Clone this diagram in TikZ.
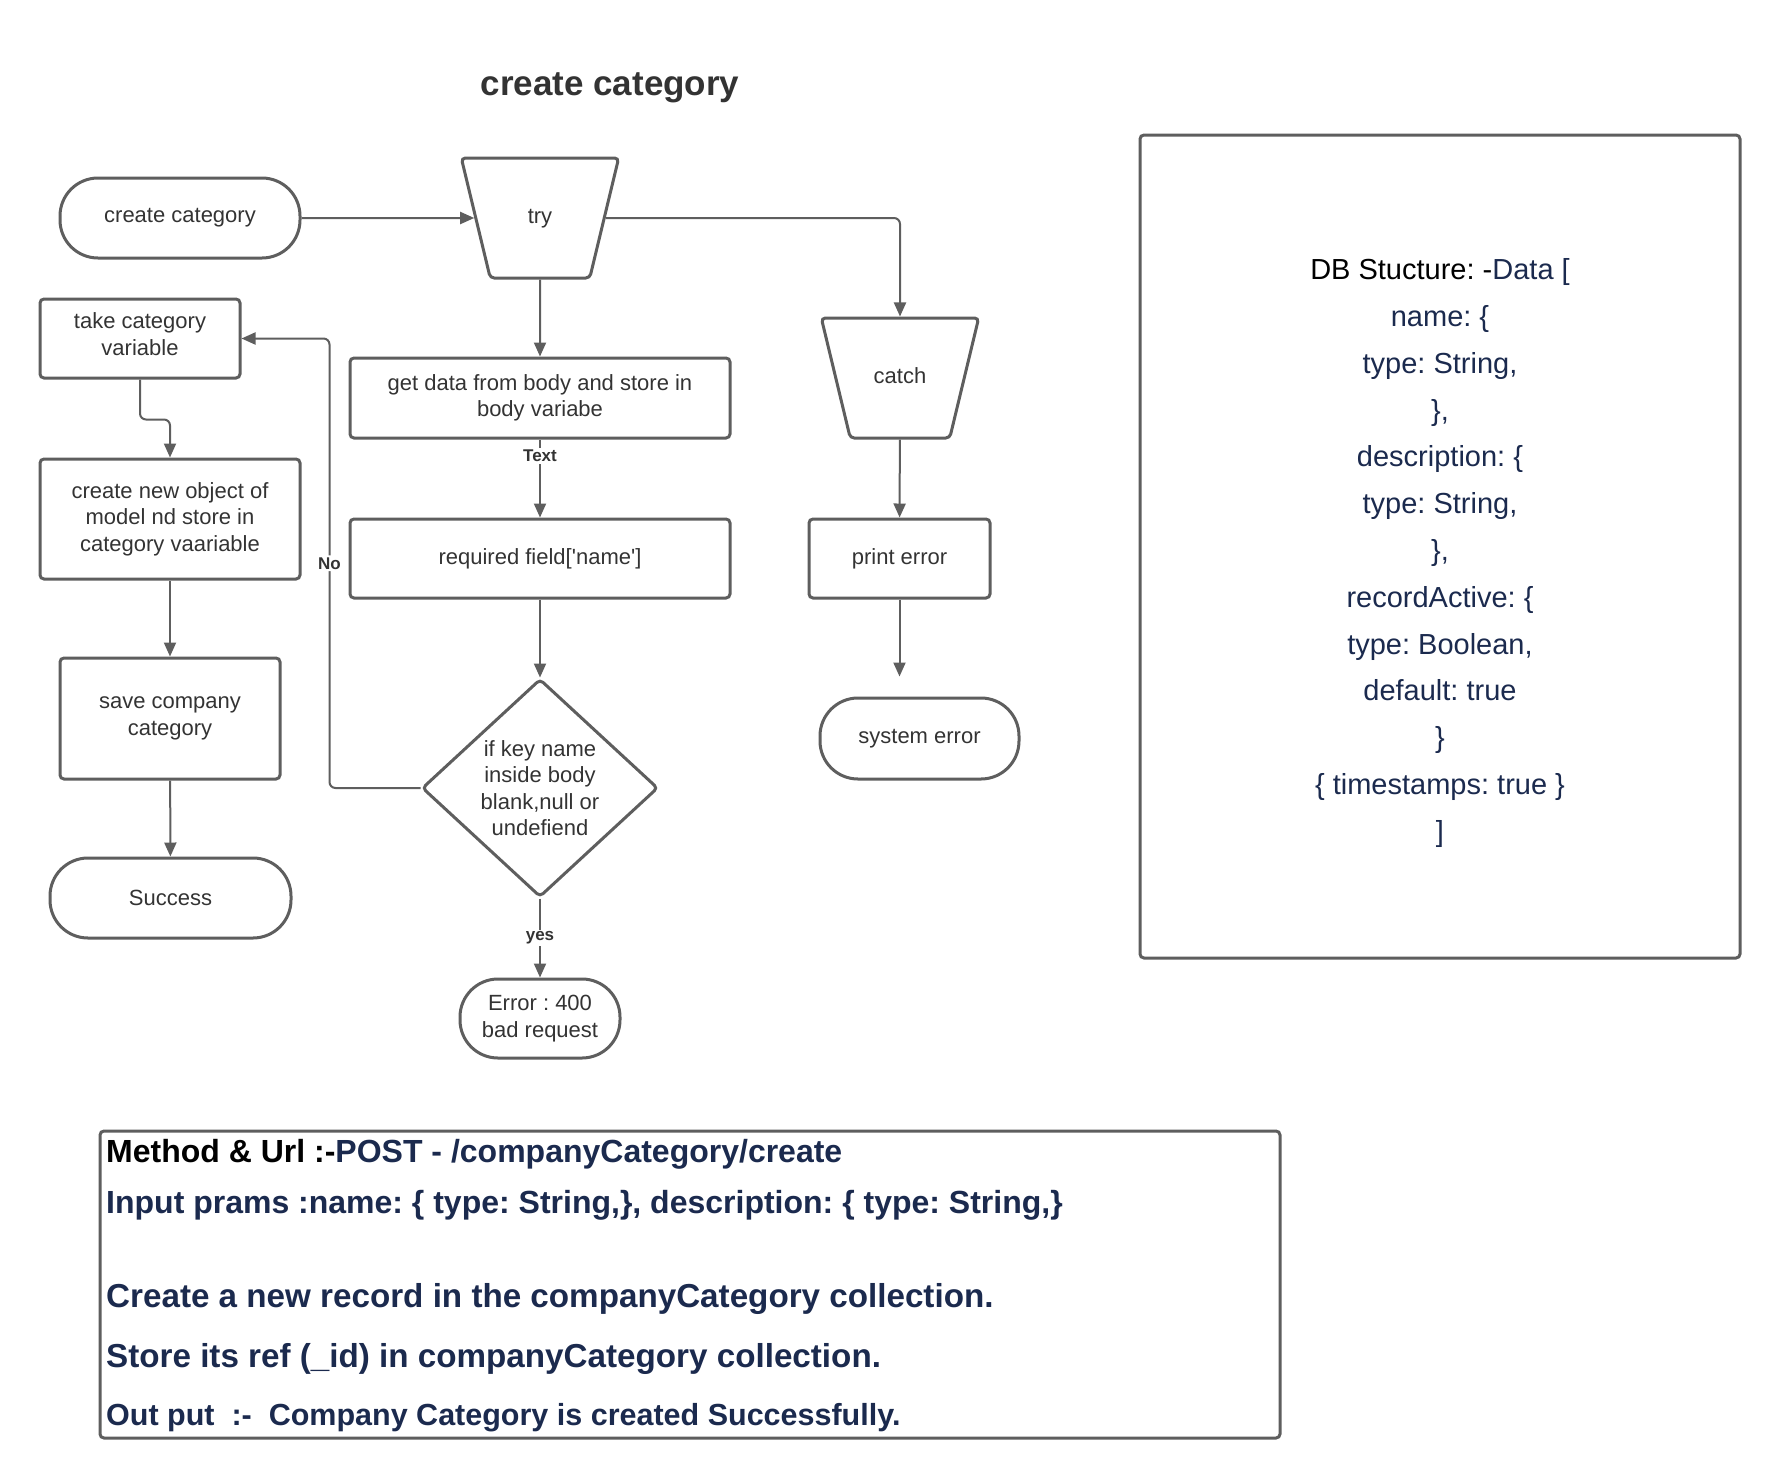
\documentclass[tikz,border=0pt]{standalone}
\usepackage{fontspec}
\setmainfont{Liberation Sans}
\usepackage{tikz}
\usetikzlibrary{arrows.meta, positioning, shapes.geometric}
\definecolor{linegray}{HTML}{5E5E5E}
\definecolor{textgray}{HTML}{333333}
\definecolor{navytext}{HTML}{1B2A4E}
\frenchspacing
\newcommand{\flowfont}{\fontsize{22}{26.5}\selectfont}
\newcommand{\dbfont}{\fontsize{29}{46.8}\selectfont}
\newcommand{\apifont}{\bfseries\fontsize{32}{38}\selectfont}
\tikzset{
  box/.style={draw=linegray, line width=3pt, rounded corners=4pt, text=textgray,
    font=\flowfont, align=center, inner sep=0pt},
  terminal/.style={box, rounded corners=38pt},
  trapbox/.style={box, trapezium, trapezium angle=50.3, shape border rotate=180,
    text width=60pt, text height=16pt, text depth=5pt,
    trapezium stretches=true, minimum width=158pt, minimum height=120pt},
  decision/.style={box, diamond, minimum width=236pt, minimum height=218pt},
  arr/.style={draw=linegray, line width=2pt, -{Triangle[length=14pt,width=12pt]}},
  lbl/.style={fill=white, text=textgray, inner sep=2pt,
    font=\bfseries\fontsize{17}{17}\selectfont},
  apiline/.style={anchor=west, text=navytext, font=\apifont, inner sep=0pt}
}

\begin{document}
\begin{tikzpicture}[x=1pt, y=-1pt]
    \useasboundingbox (0,0) rectangle (1780,1478);

    % title
    \node[text=textgray, font=\bfseries\fontsize{35}{40}\selectfont] (title) at (610,88) {create category};

    % main column: try
    \node[terminal, minimum width=240pt, minimum height=80pt] (start) at (180,218) {create category};
    \node[trapbox] (try) at (540,218) {try};
    \node[box, minimum width=380pt, minimum height=80pt] (getdata) at (540,398) {get data from body and store in\\body variabe};
    \node[box, minimum width=380pt, minimum height=79pt] (required) at (540,558.5) {required field[\textquotesingle name\textquotesingle]};
    \node[decision] (dia) at (540,788) {if key name\\inside body\\blank,null or\\undefiend};
    \node[terminal, minimum width=160pt, minimum height=79pt] (error) at (540,1018.5) {Error : 400\\bad request};

    % left column
    \node[box, minimum width=200pt, minimum height=79pt, text depth=9pt] (take) at (140,338.5) {take category\\variable};
    \node[box, minimum width=260pt, minimum height=120pt] (newobj) at (170,519) {create new object of\\model nd store in\\category vaariable};
    \node[box, minimum width=220pt, minimum height=121pt] (save) at (170,718.5) {save company\\category};
    \node[terminal, minimum width=241pt, minimum height=80pt] (success) at (170.5,898) {Success};

    % catch column
    \node[trapbox] (catch) at (900,378) {catch};
    \node[box, minimum width=181pt, minimum height=79pt] (printerr) at (899.5,558.5) {print error};
    \node[terminal, minimum width=199pt, minimum height=81pt] (syserr) at (919.5,738.5) {system error};

    % connectors
    \draw[arr] (start) -- (try);
    \draw[arr] (try) -- (getdata);
    \draw[arr] (getdata) -- node[lbl, pos=0.21] (textlbl) {Text} (required);
    \draw[arr] (required) -- (dia);
    \draw[arr] (dia) -- node[lbl, pos=0.5] (yeslbl) {yes} (error);
    \draw[arr, rounded corners=6pt] (dia.west) -- ++(-91,0) |- node[lbl, pos=0.25] (nolbl) {No} (take.east);
    \draw[arr, rounded corners=6pt] (take.south) -- ++(0,40) -| (newobj.north);
    \draw[arr] (newobj) -- (save);
    \draw[arr] (save) -- (success);
    \draw[arr, rounded corners=6pt] (try.0) -| (catch.north);
    \draw[arr] (catch) -- (printerr);
    \draw[arr, shorten >=20pt] (printerr.south) -- (printerr.south |- syserr.north);

    % DB structure
    \node[box, minimum width=600pt, minimum height=823pt] (dbbox) at (1440,546.5) {};
    \node[text=navytext, font=\dbfont, align=center] (dbtext) at (1440,553)
      {{\color{black}DB Stucture: -}Data [\\
       name: \{\\
       type: String,\\
       \},\\
       description: \{\\
       type: String,\\
       \},\\
       recordActive: \{\\
       type: Boolean,\\
       default: true\\
       \}\\
       \{ timestamps: true \}\\
       ]};

    % api notes
    \node[box, minimum width=1180pt, minimum height=307pt] (apibox) at (690,1284.5) {};
    \node[apiline] (method) at (106,1154) {{\color{black}Method \& Url :-}POST - /companyCategory/create};
    \node[apiline] (params) at (106,1205) {Input prams :name: \{ type: String,\}, description: \{ type: String,\}};
    \node[apiline, font=\bfseries\fontsize{33.2}{38}\selectfont] (record) at (106,1299) {Create a new record in the companyCategory collection.};
    \node[apiline, font=\bfseries\fontsize{33.2}{38}\selectfont] (store) at (106,1359) {Store its ref (\_id) in companyCategory collection.};
    \node[apiline, font=\bfseries\fontsize{30.5}{36}\selectfont] (output) at (106,1418) {Out put \ :- \ Company Category is created Successfully.};
  \end{tikzpicture}
\end{document}
